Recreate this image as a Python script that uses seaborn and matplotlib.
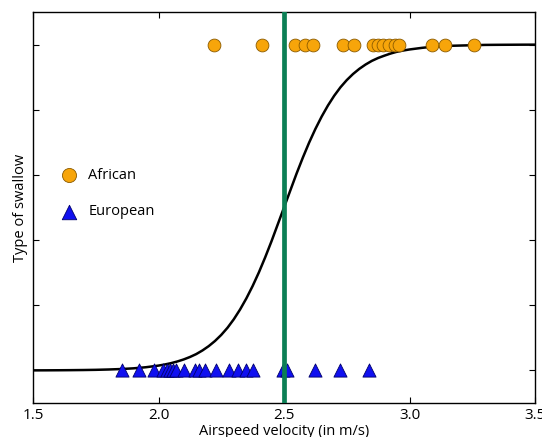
import matplotlib
matplotlib.use("Agg")
import matplotlib.pyplot as plt
import seaborn as sns
import pandas as pd

# ---- data ----
african_speed = [2.222, 2.414, 2.544, 2.584, 2.614, 2.734, 2.779, 2.853, 2.876,
                 2.896, 2.920, 2.942, 2.959, 3.088, 3.141, 3.257]
european_speed = [1.855, 1.922, 1.982, 2.018, 2.034, 2.046, 2.058, 2.070, 2.102,
                  2.145, 2.161, 2.185, 2.229, 2.281, 2.317, 2.349, 2.376, 2.496,
                  2.512, 2.624, 2.723, 2.839]
african_value = 1
european_value = 0

# fitted curve, values
curve_x = [1.50, 1.55, 1.60, 1.65, 1.70, 1.75, 1.80, 1.85, 1.90, 1.95, 2.00,
           2.025, 2.05, 2.075, 2.10, 2.125, 2.15, 2.175, 2.20, 2.225, 2.25,
           2.275, 2.30, 2.325, 2.35, 2.375, 2.40, 2.425, 2.45, 2.475, 2.50,
           2.525, 2.55, 2.575, 2.60, 2.625, 2.65, 2.675, 2.70, 2.725, 2.75,
           2.775, 2.80, 2.825, 2.85, 2.875, 2.90, 2.925, 2.95, 2.975, 3.00,
           3.05, 3.10, 3.15, 3.20, 3.25, 3.30, 3.35, 3.40, 3.45, 3.50]
curve_p = [0.0002, 0.0003, 0.0005, 0.0008, 0.0012, 0.0018, 0.0028, 0.0042, 0.0064, 0.0098, 0.0148,
           0.0182, 0.0223, 0.0274, 0.0336, 0.0411, 0.050, 0.0612, 0.0745, 0.0903, 0.109,
           0.131, 0.157, 0.187, 0.221, 0.259, 0.301, 0.347, 0.396, 0.448, 0.500,
           0.552, 0.604, 0.653, 0.699, 0.741, 0.779, 0.813, 0.843, 0.869, 0.891,
           0.9097, 0.9255, 0.9388, 0.950, 0.9589, 0.966, 0.9726, 0.978, 0.9818, 0.985,
           0.990, 0.994, 0.996, 0.997, 0.998, 0.999, 0.9993, 0.9995, 0.9997, 0.9998]
threshold = 2.5

x_ticks = [1.5, 2.0, 2.5, 3.0, 3.5]
x_tick_labels = ["1.5", "2.0", "2.5", "3.0", "3.5"]
y_ticks = [0.0, 0.2, 0.4, 0.6, 0.8, 1.0]

# ---- style ----
sns.set_style("ticks")
plt.rcParams['font.family'] = ['Open Sans', 'DejaVu Sans']
plt.rcParams.update({
    'xtick.direction': 'in', 'ytick.direction': 'in',
    'xtick.top': True, 'ytick.right': True,
    'xtick.major.size': 4, 'ytick.major.size': 4,
    'axes.linewidth': 1.0,
    'text.color': 'black', 'axes.labelcolor': 'black',
    'xtick.color': 'black', 'ytick.color': 'black',
    'axes.edgecolor': 'black',
})

fig = plt.figure(figsize=(5.42, 4.37), dpi=100)
ax = fig.add_axes([33/542, 34/437, 502/542, 391/437])

df_af = pd.DataFrame({'speed': african_speed, 'type': [african_value]*len(african_speed)})
df_eu = pd.DataFrame({'speed': european_speed, 'type': [european_value]*len(european_speed)})
df_curve = pd.DataFrame({'x': curve_x, 'p': curve_p})

sns.lineplot(data=df_curve, x='x', y='p', ax=ax, color='black', lw=1.8, zorder=2)
sns.scatterplot(data=df_af, x='speed', y='type', ax=ax, marker='o', s=85,
                color='#f7a50a', edgecolor='#8a5a00', linewidth=0.6,
                label='African', zorder=3)
sns.scatterplot(data=df_eu, x='speed', y='type', ax=ax, marker='^', s=90,
                color='#1010f0', edgecolor='#00006a', linewidth=0.6,
                label='European', zorder=3)
ax.axvline(threshold, color='#0b7f55', lw=3.4, zorder=4)

ax.set_xlim(1.5, 3.5)
ax.set_ylim(-0.1, 1.1)
ax.set_xticks(x_ticks)
ax.set_xticklabels(x_tick_labels, fontsize=11)
ax.set_yticks(y_ticks)
ax.set_yticklabels([])
ax.set_xlabel('Airspeed velocity (in m/s)', fontsize=10.5, labelpad=1)
ax.set_ylabel('Type of swallow', fontsize=10.5, labelpad=0)
for s in ax.spines.values():
    s.set_visible(True)
    s.set_color('black')

ax.legend(loc='center left', bbox_to_anchor=(0.058, 0.535), frameon=False,
          fontsize=10.5, handlelength=1.0, handletextpad=0.8,
          labelspacing=1.45, borderpad=0, borderaxespad=0, markerscale=1.1)

fig.savefig('out.png', dpi=100)
